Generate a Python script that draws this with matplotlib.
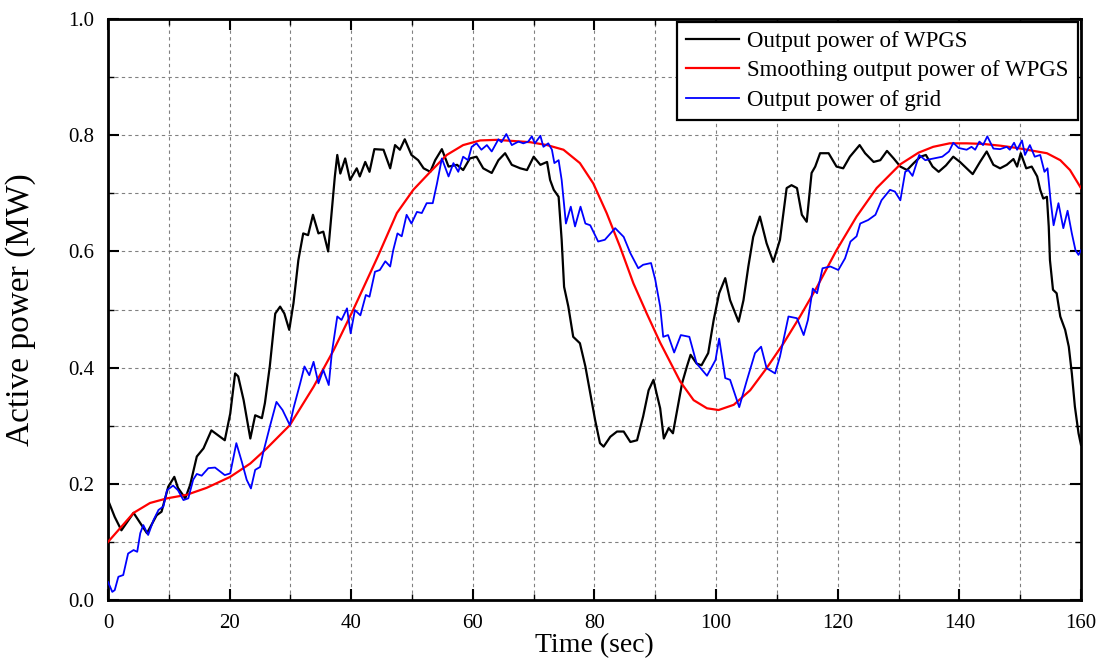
import numpy as np
import matplotlib
matplotlib.use('Agg')
import matplotlib.pyplot as plt
from matplotlib.ticker import MultipleLocator

# Output power of WPGS (black)
t_wpgs = [0, 1.1, 2.2, 4.2, 6.4, 8.0, 8.8, 9.9, 10.9, 11.5, 12.7, 13.5, 14.6, 15.7, 17.0, 19.2,
          20.1, 20.9, 21.4, 22.3, 23.4, 24.2, 25.3, 25.8, 26.6, 27.5, 28.3, 29.0, 29.8, 30.5,
          31.3, 32.1, 32.9, 33.7, 34.6, 35.4, 36.2, 36.8, 37.3, 37.7, 38.2, 39.0, 39.8, 40.9,
          41.4, 42.3, 43.0, 43.8, 45.3, 46.4, 47.2, 48.0, 48.8, 49.9, 51.0, 51.9, 53.0, 53.8,
          54.9, 56.0, 57.4, 58.4, 59.5, 60.6, 61.7, 63.1, 64.2, 65.3, 66.4, 67.8, 68.9, 70.0,
          71.1, 72.2, 72.7, 73.3, 74.1, 74.6, 75.0, 75.7, 76.5, 77.6, 78.5, 79.3, 80.1, 80.9,
          81.5, 82.6, 83.7, 84.8, 85.9, 87.0, 88.0, 88.9, 89.7, 90.2, 90.8, 91.4, 92.2, 92.9,
          93.5, 94.4, 95.2, 95.8, 96.8, 97.6, 98.7, 99.6, 100.5, 101.5, 102.3, 103.7, 104.5,
          105.3, 106.1, 107.2, 108.3, 109.4, 110.5, 111.6, 112.4, 113.3, 114.1, 114.9, 115.7,
          116.3, 117.1, 118.5, 119.8, 120.9, 122.0, 123.6, 124.5, 125.9, 127.0, 128.1, 129.2,
          130.3, 131.4, 132.5, 133.6, 134.5, 135.6, 136.6, 137.8, 139.0, 140.1, 141.2, 142.2,
          143.4, 144.5, 145.6, 146.7, 147.8, 148.9, 149.5, 150.1, 151.0, 151.9, 152.8, 153.3,
          153.8, 154.4, 154.7, 154.9, 155.4, 156.0, 156.6, 157.4, 158.0, 158.5, 159.0, 159.6, 160.0]
p_wpgs = [0.172, 0.143, 0.120, 0.150, 0.115, 0.146, 0.152, 0.195, 0.212, 0.193, 0.175, 0.198,
          0.247, 0.261, 0.292, 0.275, 0.321, 0.390, 0.385, 0.344, 0.278, 0.318, 0.313, 0.339,
          0.402, 0.493, 0.505, 0.493, 0.465, 0.511, 0.585, 0.631, 0.628, 0.663, 0.631, 0.634,
          0.600, 0.671, 0.729, 0.766, 0.734, 0.760, 0.723, 0.743, 0.729, 0.754, 0.737, 0.776,
          0.775, 0.743, 0.783, 0.775, 0.793, 0.766, 0.757, 0.743, 0.737, 0.757, 0.776, 0.746,
          0.749, 0.740, 0.760, 0.763, 0.743, 0.735, 0.757, 0.769, 0.749, 0.743, 0.740, 0.763,
          0.749, 0.754, 0.723, 0.706, 0.694, 0.620, 0.539, 0.505, 0.453, 0.442, 0.402, 0.356,
          0.310, 0.270, 0.264, 0.281, 0.290, 0.290, 0.272, 0.275, 0.316, 0.361, 0.379, 0.356,
          0.330, 0.278, 0.296, 0.287, 0.321, 0.373, 0.402, 0.422, 0.407, 0.404, 0.425, 0.482,
          0.528, 0.554, 0.516, 0.479, 0.516, 0.574, 0.625, 0.660, 0.614, 0.582, 0.620, 0.709,
          0.714, 0.709, 0.663, 0.651, 0.735, 0.746, 0.769, 0.769, 0.746, 0.743, 0.763, 0.783,
          0.769, 0.754, 0.757, 0.773, 0.760, 0.746, 0.740, 0.752, 0.763, 0.766, 0.746, 0.737,
          0.748, 0.763, 0.754, 0.743, 0.733, 0.754, 0.772, 0.749, 0.743, 0.749, 0.759, 0.746,
          0.769, 0.743, 0.746, 0.729, 0.706, 0.691, 0.694, 0.643, 0.585, 0.534, 0.528, 0.488,
          0.465, 0.436, 0.390, 0.333, 0.287, 0.267]

# Smoothing output power of WPGS (red)
t_smooth = [0, 4.2, 6.9, 9.7, 12.9, 16.2, 20.1, 23.4, 26.1, 29.9, 33.8, 37.1, 40.3, 44.4, 47.5,
            50.2, 53.0, 55.7, 58.4, 61.2, 63.9, 66.7, 69.4, 72.2, 74.9, 77.6, 79.8, 82.0, 84.2,
            86.4, 88.6, 90.8, 94.1, 96.3, 98.5, 100.4, 102.9, 105.6, 108.3, 111.1, 113.8, 116.6,
            119.8, 123.1, 126.4, 130.3, 133.3, 135.7, 138.4, 141.2, 143.9, 146.7, 149.5, 152.2,
            154.4, 156.6, 158.2, 160.0]
p_smooth = [0.100, 0.150, 0.167, 0.175, 0.181, 0.193, 0.212, 0.235, 0.261, 0.301, 0.367, 0.430,
            0.499, 0.592, 0.666, 0.706, 0.737, 0.766, 0.783, 0.791, 0.792, 0.790, 0.788, 0.783,
            0.775, 0.752, 0.717, 0.666, 0.608, 0.545, 0.493, 0.443, 0.376, 0.344, 0.330, 0.327,
            0.336, 0.361, 0.399, 0.442, 0.488, 0.539, 0.602, 0.660, 0.709, 0.750, 0.770, 0.780,
            0.786, 0.786, 0.785, 0.782, 0.778, 0.773, 0.769, 0.757, 0.740, 0.709]

# Output power of grid (blue)
t_grid = [0, 0.7, 1.1, 1.7, 2.5, 3.3, 4.2, 4.8, 5.3, 5.8, 6.6, 7.5, 8.3, 9.1, 9.7, 10.7, 11.5,
          12.4, 13.2, 14.0, 14.6, 15.4, 16.5, 17.6, 19.2, 20.1, 21.1, 22.0, 22.8, 23.5, 24.2,
          25.0, 25.5, 26.6, 27.7, 28.7, 29.9, 30.5, 31.6, 32.3, 33.1, 33.8, 34.6, 35.4, 36.3,
          36.8, 37.7, 38.4, 39.3, 39.9, 40.6, 41.5, 42.4, 43.0, 43.9, 44.7, 45.6, 46.4, 46.9,
          47.6, 48.3, 49.1, 49.9, 50.8, 51.6, 52.4, 53.4, 54.1, 54.9, 56.0, 56.8, 57.6, 58.4,
          59.2, 59.8, 60.6, 61.4, 62.3, 63.1, 64.2, 64.7, 65.5, 66.4, 67.5, 68.3, 69.1, 69.7,
          70.2, 71.1, 71.6, 72.4, 73.0, 73.4, 74.1, 74.6, 75.3, 76.1, 76.8, 77.7, 78.5, 79.3,
          80.6, 81.7, 83.4, 84.8, 85.9, 87.2, 88.0, 89.3, 90.0, 90.8, 91.3, 92.1, 93.1, 94.2,
          95.6, 96.8, 98.5, 99.9, 100.5, 101.5, 102.3, 103.8, 105.0, 106.4, 107.4, 108.3, 109.7,
          110.5, 111.9, 113.3, 114.4, 115.1, 115.9, 116.6, 117.5, 118.8, 120.1, 121.2, 122.1,
          123.1, 123.7, 125.0, 126.2, 127.2, 128.6, 129.4, 130.3, 131.1, 131.6, 132.3, 133.4,
          134.4, 135.8, 137.2, 138.3, 139.0, 139.9, 141.2, 142.0, 142.6, 143.3, 143.9, 144.6,
          145.6, 146.7, 147.8, 148.3, 149.0, 149.5, 150.3, 150.8, 151.6, 152.4, 153.3, 154.0,
          154.5, 155.0, 155.5, 156.3, 157.1, 157.8, 158.5, 159.1, 159.6, 160.0]
p_grid = [0.031, 0.014, 0.017, 0.040, 0.043, 0.080, 0.086, 0.083, 0.115, 0.129, 0.112, 0.138,
          0.155, 0.161, 0.189, 0.197, 0.189, 0.172, 0.175, 0.207, 0.217, 0.214, 0.227, 0.228,
          0.215, 0.218, 0.270, 0.238, 0.207, 0.192, 0.224, 0.229, 0.253, 0.298, 0.341, 0.327,
          0.301, 0.330, 0.373, 0.402, 0.387, 0.410, 0.373, 0.396, 0.370, 0.425, 0.488, 0.482,
          0.502, 0.459, 0.499, 0.490, 0.525, 0.522, 0.565, 0.568, 0.583, 0.574, 0.602, 0.631,
          0.626, 0.663, 0.648, 0.668, 0.666, 0.683, 0.683, 0.717, 0.760, 0.729, 0.752, 0.737,
          0.763, 0.757, 0.780, 0.786, 0.775, 0.783, 0.772, 0.793, 0.788, 0.802, 0.783, 0.789,
          0.786, 0.789, 0.798, 0.786, 0.799, 0.780, 0.786, 0.775, 0.752, 0.757, 0.723, 0.648,
          0.677, 0.643, 0.677, 0.648, 0.645, 0.617, 0.620, 0.640, 0.625, 0.597, 0.571, 0.577,
          0.580, 0.551, 0.505, 0.453, 0.456, 0.426, 0.456, 0.453, 0.407, 0.386, 0.413, 0.450,
          0.382, 0.379, 0.332, 0.376, 0.425, 0.436, 0.399, 0.390, 0.419, 0.488, 0.485, 0.456,
          0.482, 0.536, 0.528, 0.571, 0.574, 0.568, 0.588, 0.617, 0.626, 0.648, 0.654, 0.663,
          0.688, 0.706, 0.703, 0.688, 0.737, 0.740, 0.730, 0.766, 0.757, 0.760, 0.763, 0.772,
          0.787, 0.778, 0.775, 0.780, 0.775, 0.789, 0.783, 0.798, 0.777, 0.776, 0.780, 0.775,
          0.787, 0.775, 0.791, 0.766, 0.783, 0.763, 0.766, 0.737, 0.743, 0.688, 0.645, 0.683,
          0.640, 0.670, 0.631, 0.602, 0.594, 0.602]

plt.rcParams['font.family'] = ['Liberation Serif', 'DejaVu Serif']

fig = plt.figure(figsize=(11.16, 6.69), dpi=100)
ax = fig.add_axes([0.0968, 0.1031, 0.8718, 0.8685])

ax.plot(t_wpgs, p_wpgs, color='black', lw=1.6, label='Output power of WPGS', zorder=3)
ax.plot(t_smooth, p_smooth, color='red', lw=1.6, label='Smoothing output power of WPGS', zorder=4)
ax.plot(t_grid, p_grid, color='blue', lw=1.3, label='Output power of grid', zorder=5)

ax.set_xlim(0, 160)
ax.set_ylim(0, 1.0)
ax.xaxis.set_major_locator(MultipleLocator(20))
ax.xaxis.set_minor_locator(MultipleLocator(10))
ax.yaxis.set_major_locator(MultipleLocator(0.2))
ax.yaxis.set_minor_locator(MultipleLocator(0.1))
ax.yaxis.set_major_formatter(plt.FuncFormatter(lambda v, p: f'{v:.1f}'))

ax.grid(which='both', color='#808080', linestyle=(0, (3, 3)), linewidth=0.8)
ax.set_axisbelow(True)

ax.tick_params(which='both', direction='in', top=True, right=True, labelsize=15, pad=10)
ax.tick_params(which='major', length=8, width=1.5)
ax.tick_params(which='minor', length=4, width=1.0)
for s in ax.spines.values():
    s.set_linewidth(2.0)

ax.set_xlabel('Time (sec)', fontsize=20)
ax.set_ylabel('Active power (MW)', fontsize=24)
ax.xaxis.set_label_coords(0.5, -0.057)
ax.yaxis.set_label_coords(-0.074, 0.5)

leg = ax.legend(loc='upper right', fontsize=16.5, fancybox=False, framealpha=1,
                edgecolor='black', borderaxespad=0.12, handlelength=2.3,
                handletextpad=0.35, labelspacing=0.35, borderpad=0.42)
leg.get_frame().set_linewidth(1.6)

fig.savefig('out.png', dpi=100)
